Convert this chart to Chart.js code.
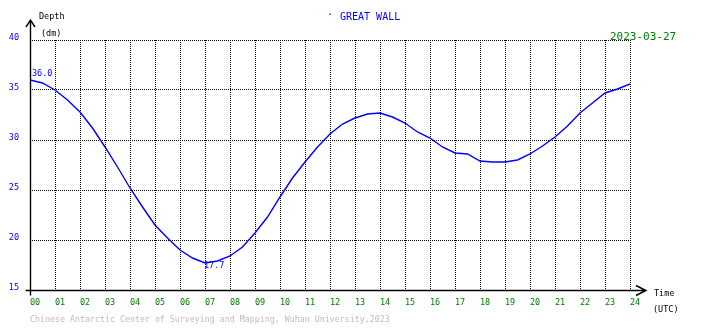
<!DOCTYPE html>
<html>
<head>
<meta charset="utf-8">
<script src="https://cdn.jsdelivr.net/npm/chart.js"></script>
<style>
  html, body { margin: 0; padding: 0; background: #fff; }
  #wrap { width: 710px; height: 328px; position: relative; }
</style>
</head>
<body>
<div id="wrap"><canvas id="tideChart" width="710" height="328"></canvas></div>
<script>
// tide data (hours UTC, depth in dm)
const hours = [0, 0.5, 1, 1.5, 2, 2.5, 3, 3.5, 4, 4.5, 5, 5.5, 6, 6.5, 7, 7.5, 8, 8.5, 9, 9.5,
  10, 10.5, 11, 11.5, 12, 12.5, 13, 13.5, 14, 14.5, 15, 15.5, 16, 16.5, 17, 17.5, 18, 18.5, 19, 19.5,
  20, 20.5, 21, 21.5, 22, 22.5, 23, 23.5, 24];
const depth = [36.0, 35.7, 35.0, 34.0, 32.8, 31.2, 29.3, 27.3, 25.2, 23.3, 21.5, 20.2, 19.0, 18.2, 17.7, 17.9, 18.4, 19.3, 20.7, 22.3,
  24.3, 26.2, 27.8, 29.3, 30.6, 31.6, 32.2, 32.6, 32.7, 32.3, 31.7, 30.8, 30.2, 29.3, 28.7, 28.6, 27.9, 27.8, 27.8, 28.0,
  28.6, 29.4, 30.3, 31.4, 32.7, 33.7, 34.7, 35.1, 35.6];
const yTicks = [15, 20, 25, 30, 35, 40];
const stationName = 'GREAT WALL';
const dateLabel = '2023-03-27';
const footer = 'Chinese Antarctic Center of Surveying and Mapping, Wuhan University,2023';
const startLabel = '36.0';
const minLabel = '17.7';

const MONO = '"DejaVu Sans Mono", "Liberation Mono", monospace';

// axes with arrows + all the loose texts
const decorations = {
  id: 'decorations',
  afterDraw(chart) {
    const c = chart.ctx;
    const a = chart.chartArea;
    const xs = chart.scales.x, ys = chart.scales.y;
    const x0 = Math.round(a.left) + 0.5;
    const y0 = Math.round(a.bottom) + 0.5;
    c.save();
    c.strokeStyle = '#000';
    c.lineWidth = 1.4;
    c.beginPath();
    // y axis
    c.moveTo(x0, y0 + 5);
    c.lineTo(x0, 20);
    c.moveTo(x0 - 4.5, 27);
    c.lineTo(x0, 20);
    c.lineTo(x0 + 4.5, 27);
    // x axis
    c.moveTo(x0 - 5, y0);
    c.lineTo(646, y0);
    c.moveTo(636, y0 - 5);
    c.lineTo(646, y0);
    c.lineTo(636, y0 + 5);
    c.stroke();

    c.textBaseline = 'middle';
    c.textAlign = 'left';
    c.fillStyle = '#000';
    c.font = '8.5px ' + MONO;
    c.fillText('Depth', 39, 17);
    c.fillText('(dm)', 41, 34);
    c.fillText('Time', 654, 294);
    c.fillText('(UTC)', 653, 310);

    c.fillStyle = '#0000ff';
    c.font = '10px ' + MONO;
    c.fillText('\u00b7', 327, 15);
    c.fillText(stationName, 340, 17);

    c.fillStyle = '#008000';
    c.font = '11px ' + MONO;
    c.fillText(dateLabel, 610, 37);

    c.fillStyle = '#bdbdbd';
    c.font = '8.3px ' + MONO;
    c.fillText(footer, 30, 320);

    // value labels at start and minimum
    c.fillStyle = '#0000ff';
    c.font = '8.5px ' + MONO;
    c.fillText(startLabel, xs.getPixelForValue(hours[0]) + 2, ys.getPixelForValue(depth[0]) - 6);
    let iMin = 0;
    depth.forEach((d, i) => { if (d < depth[iMin]) iMin = i; });
    c.fillText(minLabel, xs.getPixelForValue(hours[iMin]) - 1, ys.getPixelForValue(depth[iMin]) + 3);
    c.restore();
  }
};

const ctx = document.getElementById('tideChart').getContext('2d');
const tideChart = new Chart(ctx, {
  type: 'line',
  data: {
    datasets: [{
      data: hours.map((h, i) => ({ x: h, y: depth[i] })),
      borderColor: '#0000ff',
      borderWidth: 1.4,
      pointRadius: 0,
      tension: 0,
      fill: false
    }]
  },
  options: {
    responsive: false,
    animation: false,
    layout: { padding: { top: 40, right: 80, bottom: 10, left: 0 } },
    plugins: { legend: { display: false }, tooltip: { enabled: false } },
    scales: {
      x: {
        type: 'linear',
        min: 0,
        max: 24,
        afterFit: s => { s.height = 28; },
        ticks: {
          stepSize: 1,
          align: 'start',
          padding: 8,
          color: '#008000',
          font: { family: MONO, size: 8.5 },
          maxRotation: 0,
          autoSkip: false,
          callback: v => String(v).padStart(2, '0')
        },
        grid: {
          color: '#000',
          lineWidth: 1,
          drawTicks: false,
          borderDash: [1, 1]
        },
        border: { display: false, dash: [1, 1] }
      },
      y: {
        min: 15,
        max: 40,
        afterFit: s => { s.width = 30; },
        afterBuildTicks: s => { s.ticks = yTicks.map(v => ({ value: v })); },
        ticks: {
          padding: 11,
          labelOffset: -2,
          color: '#0000ff',
          font: { family: MONO, size: 8.5 }
        },
        grid: {
          color: '#000',
          lineWidth: 1,
          drawTicks: false,
          borderDash: [1, 1]
        },
        border: { display: false, dash: [1, 1] }
      }
    }
  },
  plugins: [decorations]
});
</script>
</body>
</html>
